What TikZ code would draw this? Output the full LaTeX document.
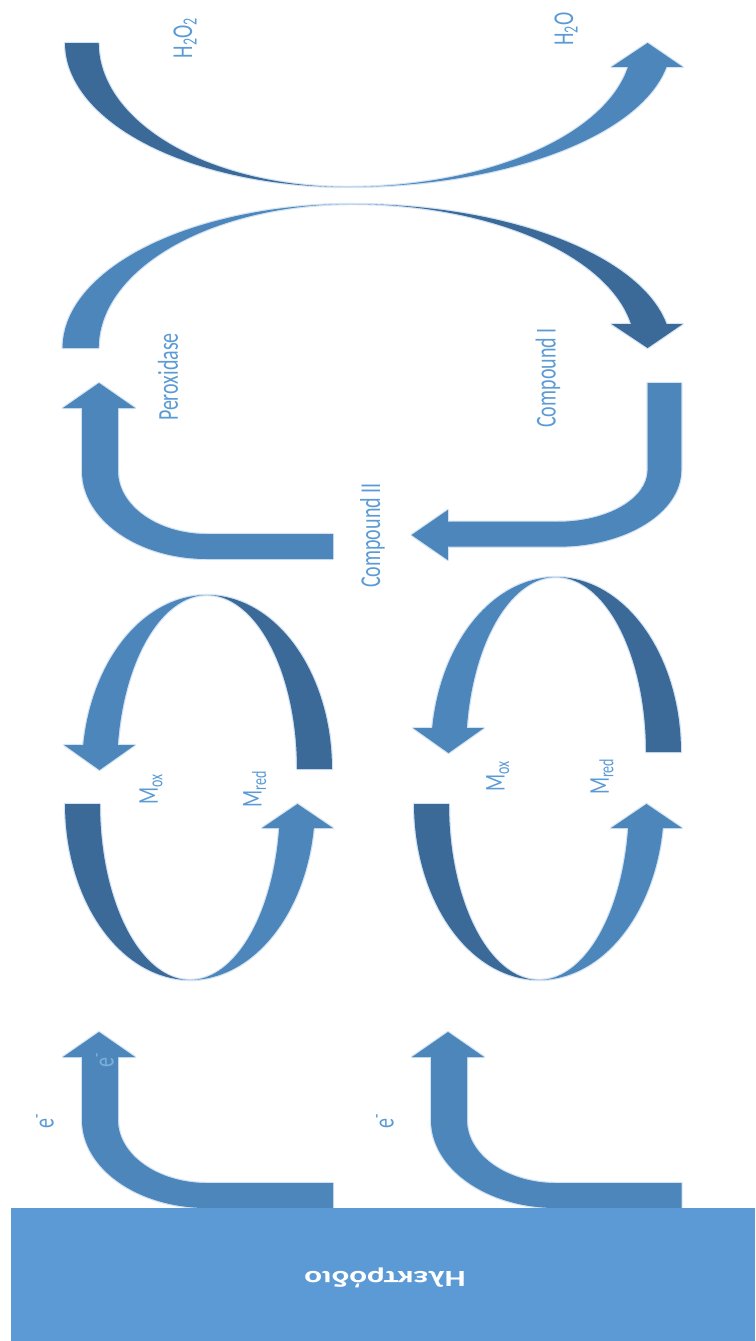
\documentclass[tikz,border=0pt]{standalone}
\usepackage{fontspec}
\usepackage{graphicx}
\newfontfamily\lblfont{Carlito}
\definecolor{arrowlight}{HTML}{4C86BA}
\definecolor{arrowdark}{HTML}{3C6A98}
\definecolor{halo}{HTML}{D3E3F3}
\definecolor{electrode}{HTML}{5B9AD5}
\definecolor{labeltext}{HTML}{5B9BD5}
\tikzset{
  ribbonlight/.style={fill=arrowlight, preaction={draw=halo, line width=2.4pt, line join=round}},
  ribbondark/.style={fill=arrowdark, preaction={draw=halo, line width=2.4pt, line join=round}},
  lbl/.style={text=labeltext, font=\lblfont\fontsize{20}{24}\selectfont, rotate=90, inner sep=0pt},
}
% vertically stretched text (becomes horizontal after rotation)
\newcommand{\vstretch}[1]{\scalebox{1}[1.44]{#1}}
% half ring over the top: dark right band, light left band with head pointing down
% #1 = centre x, #2 = centre y, #3 = vertical radius
\newcommand{\ringtop}[3]{%
  \pgfmathsetmacro\ringang{asin(24/#3)}%
  \pgfmathsetmacro\ringend{180-\ringang}%
  \fill[ribbondark] plot[domain=0:90,samples=40] ({#1+125*cos(\x)},{#2-#3*sin(\x)})
     -- plot[domain=90:0,samples=40] ({#1+90*cos(\x)},{#2-#3*sin(\x)}) -- cycle;
  \fill[ribbonlight] plot[domain=90:\ringend,samples=40] ({#1+125*cos(\x)},{#2-#3*sin(\x)})
     -- ++(-19,0) -- ({#1-107.5},{#2+1}) -- ({#1-90*cos(\ringang)+17},{#2-24})
     -- plot[domain=\ringend:90,samples=40] ({#1+90*cos(\x)},{#2-#3*sin(\x)}) -- cycle;
}
% half ring under the bottom: dark left band, light right band with head pointing up
\newcommand{\ringbottom}[3]{%
  \pgfmathsetmacro\ringang{asin(24/#3)}%
  \fill[ribbondark] plot[domain=180:90,samples=40] ({#1+125*cos(\x)},{#2+#3*sin(\x)})
     -- plot[domain=90:180,samples=40] ({#1+90*cos(\x)},{#2+#3*sin(\x)}) -- cycle;
  \fill[ribbonlight] plot[domain=90:\ringang,samples=40] ({#1+125*cos(\x)},{#2+#3*sin(\x)})
     -- ++(19,0) -- ({#1+107.5},{#2}) -- ({#1+90*cos(\ringang)-17},{#2+24})
     -- plot[domain=\ringang:90,samples=40] ({#1+90*cos(\x)},{#2+#3*sin(\x)}) -- cycle;
}
% bent arrow: horizontal foot to the right, turning up into a head
% #1 = x shift, #2 = tip y, #3 = right end x
\newcommand{\bentup}[3]{%
  \fill[ribbonlight] ({99+#1},{#2}) -- ({135+#1},{#2+25}) -- ({118+#1},{#2+25}) -- ({118+#1},{#2+88})
    .. controls ({118+#1},{#2+122.8}) and ({157.8+#1},{#2+151}) .. ({207+#1},{#2+151})
    -- ({#3},{#2+151}) -- ({#3},{#2+176}) -- ({207+#1},{#2+176})
    .. controls ({138+#1},{#2+176}) and ({82+#1},{#2+136.6}) .. ({82+#1},{#2+88})
    -- ({82+#1},{#2+25}) -- ({63+#1},{#2+25}) -- cycle;
}
\begin{document}
\begin{tikzpicture}[x=1pt,y=-1pt]
\useasboundingbox (0,0) rectangle (755,1341);

% H2O2 -> H2O bowl
\fill[ribbondark] plot[domain=180:90,samples=50] ({347+282*cos(\x)},{43+144*sin(\x)})
   -- plot[domain=90:180,samples=50] ({347+248.3*cos(\x)},{43+144*sin(\x)}) -- cycle;
\fill[ribbonlight] plot[domain=90:9.59,samples=50] ({347+324*cos(\x)},{43+144*sin(\x)})
   -- (682.7,67) -- (647.6,43) -- (611.5,67)
   -- plot[domain=9.59:90,samples=50] ({347+285*cos(\x)},{43+144*sin(\x)}) -- cycle;

% Peroxidase -> Compound I arch
\fill[ribbonlight] plot[domain=180:90,samples=50] ({352+289.4*cos(\x)},{348-144*sin(\x)})
   -- plot[domain=90:180,samples=50] ({352+253.3*cos(\x)},{348-144*sin(\x)}) -- cycle;
\fill[ribbondark] plot[domain=90:9.59,samples=50] ({352+319*cos(\x)},{348-144*sin(\x)})
   -- (682.7,324) -- (647.6,348) -- (611.5,324)
   -- plot[domain=9.59:90,samples=50] ({352+283*cos(\x)},{348-144*sin(\x)}) -- cycle;

% Compound II -> Peroxidase
\bentup{0}{383}{333}

% Compound I -> Compound II
\fill[ribbonlight] (681.3,383) -- (681.3,470)
   .. controls (681.3,512.5) and (626.1,546.7) .. (558,546.7)
   -- (447.8,546.7) -- (447.8,560) -- (411.6,535) -- (447.8,510) -- (447.8,521.7) -- (558,521.7)
   .. controls (607.5,521.7) and (647.6,498.6) .. (647.6,470)
   -- (647.6,383) -- cycle;

% mediator cycles
\ringtop{207}{769}{174}
\ringbottom{190}{804}{176}
\ringtop{556}{752}{175}
\ringbottom{539}{804}{176}

% electron transfer from the electrode
\bentup{0}{1032}{333}
\bentup{349}{1032}{681.5}

% electrode
\fill[electrode] (10.5,1208.3) rectangle (755,1341);
\node[text=white, font=\lblfont\bfseries\fontsize{23}{28}\selectfont, rotate=180, inner sep=0pt]
  (electrodetext) at (385,1278) {\scalebox{1.44}[1]{Ηλεκτρόδιο}};

% labels
\node[lbl] (h2o2) at (185,38) {\vstretch{H\textsubscript{2}O\textsubscript{2}}};
\node[lbl] (h2o) at (566,29) {\vstretch{H\textsubscript{2}O}};
\node[lbl] (perox) at (168,377) {\vstretch{Peroxidase}};
\node[lbl] (cpdi) at (548,378) {\vstretch{Compound I}};
\node[lbl] (cpdii) at (372.5,535.5) {\vstretch{Compound II}};
\node[lbl] (moxa) at (151,789) {\vstretch{M\textsubscript{ox}}};
\node[lbl] (mreda) at (254.6,789) {\vstretch{M\textsubscript{red}}};
\node[lbl] (moxb) at (497.7,776.5) {\vstretch{M\textsubscript{ox}}};
\node[lbl] (mredb) at (602,776.5) {\vstretch{M\textsubscript{red}}};
\node[lbl] (ea) at (45,1121) {\vstretch{e\textsuperscript{-}}};
\node[lbl] (eb) at (385,1121) {\vstretch{e\textsuperscript{-}}};
\node[lbl, text=labeltext!80!white] (ec) at (105,1060) {\vstretch{e\textsuperscript{-}}};
\end{tikzpicture}
\end{document}
